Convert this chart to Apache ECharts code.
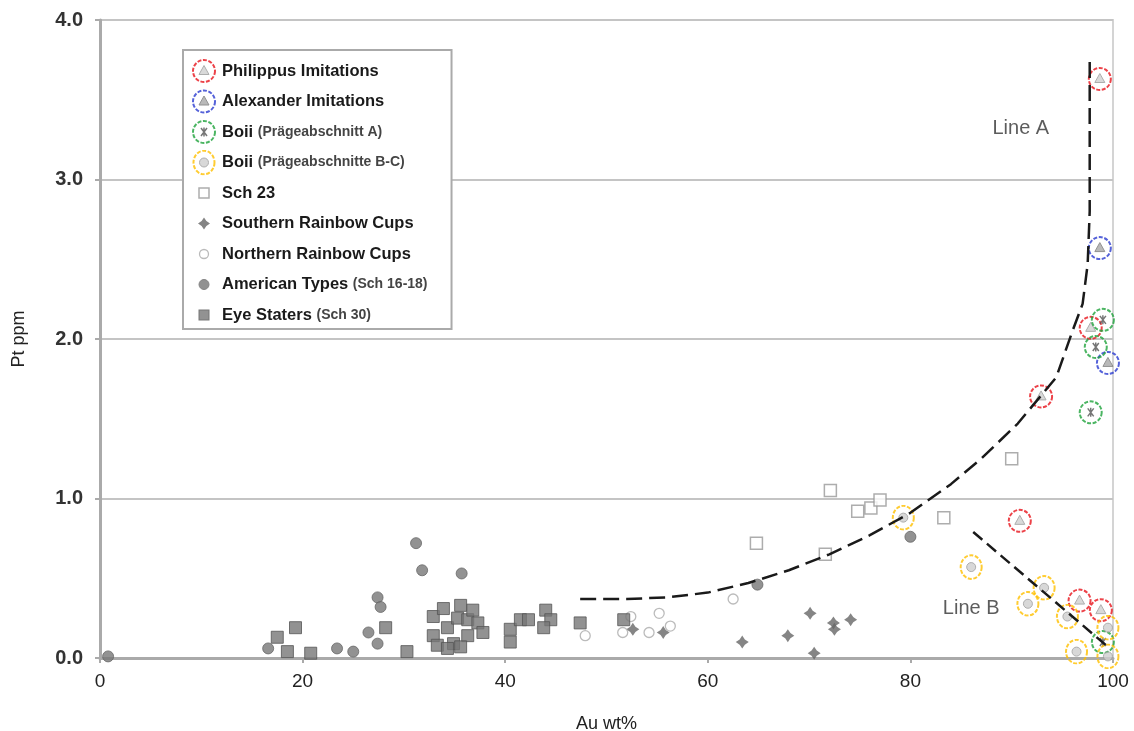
<!DOCTYPE html>
<html>
<head>
<meta charset="utf-8">
<title>Pt vs Au</title>
<script src="https://cdn.jsdelivr.net/npm/echarts@6/dist/echarts.min.js"></script>
<style>
  html, body { margin: 0; padding: 0; background: #fff; }
  #chart { width: 1134px; height: 731px; }
</style>
</head>
<body>
<div id="chart"></div>
<script>
// [Au wt%, Pt ppm]
const philippus = [[98.7, 3.63], [97.8, 2.07], [92.9, 1.64], [90.8, 0.86], [96.7, 0.36], [98.8, 0.30]]
const alexander = [[98.7, 2.57], [99.5, 1.85]]
const boiiA = [[99.0, 2.12], [98.3, 1.95], [97.8, 1.54], [99.0, 0.10]]
const boiiBC = [[79.3, 0.88], [86.0, 0.57], [93.2, 0.44], [91.6, 0.34], [95.5, 0.26], [99.5, 0.19], [96.4, 0.04], [99.5, 0.01]]
const sch23 = [[72.1, 1.05], [74.8, 0.92], [76.1, 0.94], [77.0, 0.99], [64.8, 0.72], [71.6, 0.65], [90.0, 1.25], [83.3, 0.88]]
const southern = [[63.4, 0.10], [67.9, 0.14], [70.1, 0.28], [70.5, 0.03], [72.4, 0.22], [72.5, 0.18], [74.1, 0.24], [55.6, 0.16], [52.6, 0.18]]
const northern = [[62.5, 0.37], [55.2, 0.28], [52.4, 0.26], [51.6, 0.16], [54.2, 0.16], [56.3, 0.20], [47.9, 0.14]]
const american = [[0.8, 0.01], [31.2, 0.72], [31.8, 0.55], [35.7, 0.53], [27.4, 0.38], [27.7, 0.32], [16.6, 0.06], [23.4, 0.06],
  [25.0, 0.04], [26.5, 0.16], [27.4, 0.09], [64.9, 0.46], [80.0, 0.76]]
const eyeStaters = [[19.3, 0.19], [17.5, 0.13], [18.5, 0.04], [20.8, 0.03], [28.2, 0.19], [30.3, 0.04],
  [32.9, 0.26], [33.9, 0.31], [35.6, 0.33], [32.9, 0.14], [34.3, 0.19], [35.3, 0.25], [36.3, 0.24], [37.3, 0.22],
  [37.8, 0.16], [33.3, 0.08], [34.9, 0.09], [36.3, 0.14], [34.3, 0.06], [35.6, 0.07], [36.8, 0.30],
  [40.5, 0.18], [40.5, 0.10], [41.5, 0.24], [42.3, 0.24], [44.0, 0.30], [44.5, 0.24], [43.8, 0.19], [47.4, 0.22], [51.7, 0.24]]

const lineA = [[47.4, 0.37], [52, 0.37], [56, 0.38], [60, 0.41], [64, 0.47], [68, 0.55], [72, 0.65], [76, 0.77], [80, 0.91],
  [84, 1.09], [87, 1.25], [90.6, 1.47], [94.4, 1.76], [96, 2.05], [97, 2.22], [97.5, 2.47], [97.7, 2.8], [97.7, 3.77]]
const lineB = [[86.2, 0.79], [99.5, 0.07]]
const noteNames = ['Line A', 'Line B']
const notePos = [[90.9, 3.32], [86.0, 0.31]]

const seriesNames = ['Philippus Imitations', 'Alexander Imitations', 'Boii (Prägeabschnitt A)', 'Boii (Prägeabschnitte B-C)',
  'Sch 23', 'Southern Rainbow Cups', 'Northern Rainbow Cups', 'American Types (Sch 16-18)', 'Eye Staters (Sch 30)']

const font = 'Liberation Sans, Arial, sans-serif'

// small svg markers, used both in the plot and in the legend
function svgIcon(body) {
  const svg = "<svg xmlns='http://www.w3.org/2000/svg' width='26' height='26' viewBox='0 0 26 26'>" + body + '</svg>'
  return 'image://data:image/svg+xml;charset=utf-8,' + encodeURIComponent(svg)
}
const ring = c => `<circle cx='13' cy='13' r='11' fill='none' stroke='${c}' stroke-width='2' stroke-dasharray='4 1.6'/>`
const oval = c => `<ellipse cx='13' cy='13' rx='10.5' ry='11.8' fill='none' stroke='${c}' stroke-width='2' stroke-dasharray='4 1.6'/>`
const tri = (f, s) => `<polygon points='13,7.5 18,16.5 8,16.5' fill='${f}' stroke='${s}' stroke-width='1'/>`

const icons = [
  svgIcon(ring('#e8141c') + tri('#d0d0d0', '#999')),
  svgIcon(ring('#2b3bd0') + tri('#a8a8a8', '#777')),
  svgIcon(ring('#1fa33c') + "<path d='M10,9 L16,17 M16,9 L10,17 M13,8.5 L13,17.5' stroke='#555' stroke-width='1.5' fill='none'/>"),
  svgIcon(oval('#ffc000') + "<circle cx='13' cy='13' r='4.5' fill='#cfcfcf' stroke='#999' stroke-width='1'/>"),
  svgIcon("<rect x='8' y='8' width='10' height='10' fill='#fff' stroke='#999' stroke-width='1.5'/>"),
  svgIcon("<path d='M13,7 L15.4,10.6 L19,13 L15.4,15.4 L13,19 L10.6,15.4 L7,13 L10.6,10.6Z' fill='#666'/>"),
  svgIcon("<circle cx='13' cy='13' r='4.5' fill='#fff' stroke='#aaa' stroke-width='1.3'/>"),
  svgIcon("<circle cx='13' cy='13' r='5' fill='#777' stroke='#666'/>"),
  svgIcon("<rect x='8' y='8' width='10' height='10' fill='#777' stroke='#555'/>")
]

function ringSeries(i, data) {
  return { name: seriesNames[i], type: 'scatter', data, symbol: icons[i], symbolSize: 26, z: 4 }
}

const chart = echarts.init(document.getElementById('chart'))

chart.setOption({
  animation: false,
  backgroundColor: '#fff',
  textStyle: { fontFamily: font },
  grid: {
    left: 100, right: 21, top: 20, bottom: 73, outerBoundsMode: 'none',
    show: true, borderColor: '#d4d4d4', borderWidth: 2
  },
  legend: {
    orient: 'vertical', left: 183, top: 50,
    padding: [8, 24, 1, 8], itemWidth: 26, itemHeight: 26, itemGap: 4.5,
    backgroundColor: '#fff', borderColor: '#aaa', borderWidth: 2,
    selectedMode: false,
    data: seriesNames.map((n, i) => ({ name: n, icon: icons[i] })),
    formatter: name => {
      const k = name.indexOf(' (')
      return k < 0 ? name : name.slice(0, k) + ' {s|' + name.slice(k + 1) + '}'
    },
    textStyle: {
      fontFamily: font, fontSize: 16.5, fontWeight: 'bold', color: '#1a1a1a',
      rich: { s: { fontFamily: font, fontSize: 14, fontWeight: 'bold', color: '#444' } }
    }
  },
  xAxis: {
    type: 'value', min: 0, max: 100, interval: 20,
    name: 'Au wt%', nameLocation: 'middle', nameGap: 57,
    nameTextStyle: { fontFamily: font, fontSize: 18, color: '#222' },
    axisLine: { onZero: false, lineStyle: { color: '#aaa', width: 3 } },
    axisTick: { length: 5, lineStyle: { color: '#aaa', width: 2 } },
    axisLabel: { margin: 14, fontSize: 19, color: '#222' },
    splitLine: { show: false }
  },
  yAxis: {
    type: 'value', min: 0, max: 4, interval: 1,
    name: 'Pt ppm', nameLocation: 'middle', nameGap: 72,
    nameTextStyle: { fontFamily: font, fontSize: 18, color: '#222' },
    axisLine: { show: true, onZero: false, lineStyle: { color: '#aaa', width: 3 } },
    axisTick: { show: true, length: 5, lineStyle: { color: '#aaa', width: 2 } },
    axisLabel: { margin: 17, fontSize: 20, fontWeight: 'bold', color: '#333', formatter: v => v.toFixed(1) },
    splitLine: { show: true, lineStyle: { color: '#c4c4c4', width: 2 } }
  },
  series: [
    ringSeries(0, philippus),
    ringSeries(1, alexander),
    ringSeries(2, boiiA),
    ringSeries(3, boiiBC),
    { name: seriesNames[4], type: 'scatter', data: sch23, symbol: 'rect', symbolSize: 12,
      itemStyle: { color: '#fff', borderColor: '#999', borderWidth: 1.5 } },
    { name: seriesNames[5], type: 'scatter', data: southern, symbolSize: 13,
      symbol: 'path://M0,-10 L4,-4 L10,0 L4,4 L0,10 L-4,4 L-10,0 L-4,-4Z',
      itemStyle: { color: '#666' } },
    { name: seriesNames[6], type: 'scatter', data: northern, symbol: 'circle', symbolSize: 10,
      itemStyle: { color: '#fff', borderColor: '#aaa', borderWidth: 1.3 } },
    { name: seriesNames[7], type: 'scatter', data: american, symbol: 'circle', symbolSize: 11,
      itemStyle: { color: '#777', borderColor: '#666', borderWidth: 1 } },
    { name: seriesNames[8], type: 'scatter', data: eyeStaters, symbol: 'rect', symbolSize: 12,
      itemStyle: { color: '#777', borderColor: '#555', borderWidth: 1 } },
    { name: 'Line A', type: 'line', data: lineA, symbol: 'none', silent: true, z: 5,
      lineStyle: { color: '#1a1a1a', width: 2.5, type: [16, 7] } },
    { name: 'Line B', type: 'line', data: lineB, symbol: 'none', silent: true, z: 5,
      lineStyle: { color: '#1a1a1a', width: 2.5, type: [12, 6] } },
    { name: 'notes', type: 'scatter', silent: true, symbolSize: 1,
      data: noteNames.map((n, i) => ({ name: n, value: notePos[i] })),
      itemStyle: { color: 'rgba(0,0,0,0)' },
      label: { show: true, position: 'inside', formatter: '{b}', fontFamily: font, fontSize: 20, color: '#333' } }
  ]
})

window.addEventListener('resize', () => chart.resize())
</script>
</body>
</html>
